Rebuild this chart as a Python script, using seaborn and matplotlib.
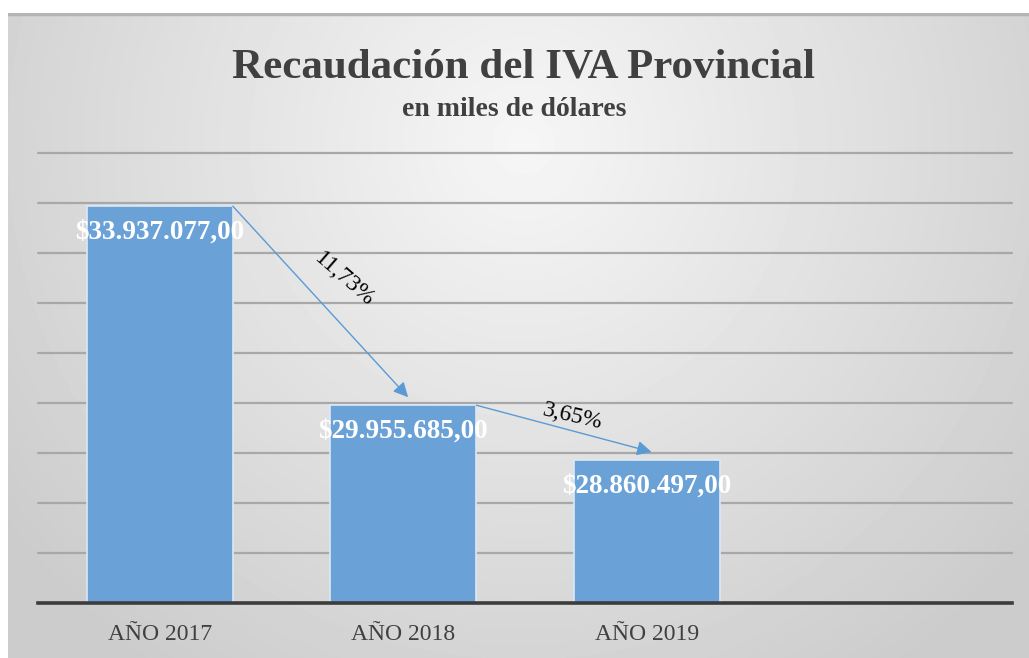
import numpy as np
import pandas as pd
import seaborn as sns
import matplotlib.pyplot as plt

# data
years = ["AÑO 2017", "AÑO 2018", "AÑO 2019"]
recaudacion = [33937077.00, 29955685.00, 28860497.00]
value_labels = ["$33.937.077,00", "$29.955.685,00", "$28.860.497,00"]
change_labels = ["11,73%", "3,65%"]

df = pd.DataFrame({"year": years, "value": recaudacion})

sns.set_style("white")
plt.rcParams["font.family"] = ["Liberation Serif", "DejaVu Serif"]

W, H = 1029, 658
fig = plt.figure(figsize=(W / 100, H / 100), dpi=100)
fig.patch.set_facecolor("white")

# gray radial gradient background of the chart area
bg = fig.add_axes([8 / W, 0, 1 - 8 / W, (H - 13) / H])
bw, bh = W - 8, H - 13
xx, yy = np.meshgrid(np.arange(bw), np.arange(bh))
r = np.sqrt(((xx - 515) / 640) ** 2 + ((yy - 130) / 640) ** 2)
shade = 0.965 - 0.165 * np.clip(r, 0, 1)
bg.imshow(shade, cmap="gray", vmin=0, vmax=1, aspect="auto", interpolation="bilinear")
bg.axhline(0, color="#b5b5b5", lw=2.5)
bg.axis("off")

ax = fig.add_axes([38 / W, (H - 603) / H, (1012 - 38) / W, (603 - 153) / H])
ax.patch.set_alpha(0)

sns.barplot(data=df, x="year", y="value", color="#6aa1d7", width=0.6,
            edgecolor="#dbe8f6", linewidth=1.2, saturation=1, ax=ax)

ax.set_xlim(-0.5, 3.5)
ax.set_ylim(26e6, 35e6)
ax.set_yticks(np.arange(26e6, 35.5e6, 1e6))
ax.yaxis.grid(True, color="#a8a8a8", lw=1.6)
for gl in ax.get_ygridlines():
    gl.set_clip_on(False)
ax.set_axisbelow(True)
ax.set_yticklabels([])
ax.tick_params(axis="y", length=0)
ax.tick_params(axis="x", length=0, pad=15, labelsize=17, labelcolor="#404040")
ax.set_xlabel("")
ax.set_ylabel("")
for s in ["top", "right", "left"]:
    ax.spines[s].set_visible(False)
ax.spines["bottom"].set_color("#3c3c3c")
ax.spines["bottom"].set_linewidth(2.6)

# value labels inside the bars
for i, (v, lab) in enumerate(zip(recaudacion, value_labels)):
    ax.annotate(lab, (i, v), xytext=(0, -19), textcoords="offset points",
                ha="center", va="center", color="white", fontsize=19.5,
                fontweight="bold")

# arrows showing the drop between years
arrow_color = "#5b9bd5"
text_offsets = [(17, 16), (6, 9)]
rotations = [-41, -13]
for i, lab in enumerate(change_labels):
    start = (i + 0.3, recaudacion[i])
    end = (i + 1.02, recaudacion[i + 1] + 0.16e6)
    ax.annotate("", xy=end, xytext=start,
                arrowprops=dict(arrowstyle="-|>", color=arrow_color, lw=1,
                                mutation_scale=22, shrinkA=0, shrinkB=0))
    mid = ((start[0] + end[0]) / 2, (start[1] + end[1]) / 2)
    ax.annotate(lab, mid, xytext=text_offsets[i], textcoords="offset points",
                ha="center", va="center", rotation=rotations[i],
                rotation_mode="anchor", fontsize=17, color="black")

fig.text(524 / W, 1 - 68 / H, "Recaudación del IVA Provincial", ha="center",
         va="center", fontsize=31, fontweight="bold", color="#404040")
fig.text(514 / W, 1 - 110 / H, "en miles de dólares", ha="center",
         va="center", fontsize=20, fontweight="bold", color="#404040")

fig.savefig("out.png", dpi=100)
